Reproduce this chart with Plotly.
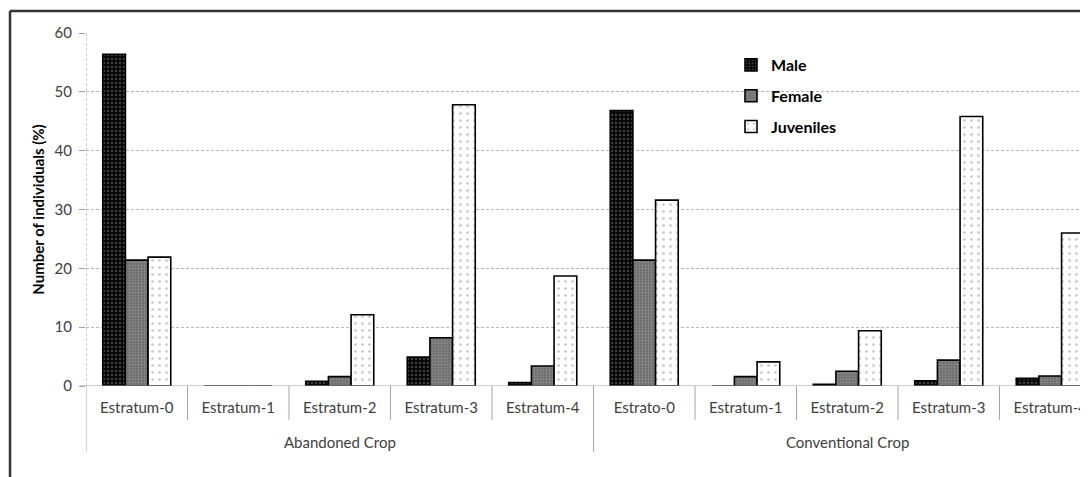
import plotly.graph_objects as go

groups = ["Abandoned Crop", "Conventional Crop"]
strata = ["Estratum-0", "Estratum-1", "Estratum-2", "Estratum-3", "Estratum-4",
          "Estrato-0", "Estratum-1", "Estratum-2", "Estratum-3", "Estratum-4"]
male = [56.4, 0.0, 0.8, 4.9, 0.6, 46.8, 0.0, 0.3, 0.9, 1.3]
female = [21.4, 0.0, 1.6, 8.2, 3.4, 21.4, 1.6, 2.5, 4.4, 1.7]
juveniles = [21.9, 0.0, 12.1, 47.8, 18.7, 31.6, 4.1, 9.4, 45.8, 26.0]
yticks = [0, 10, 20, 30, 40, 50, 60]

xpos = list(range(len(strata)))
FONT = "Lato, 'Open Sans', sans-serif"

# page body has an 8px default margin: figure occupies 8..1088 x 8..477
W, H = 1080, 469
ML, MT, MB = 78, 25, 91
plot_w = W - ML
plot_h = H - MT - MB

fig = go.Figure()
series = [
    ("Male", male, dict(shape=".", bgcolor="#050505", fgcolor="#7a7a7a", size=4, solidity=0.3)),
    ("Female", female, dict(shape=".", bgcolor="#6a6a6a", fgcolor="#a8a8a8", size=3, solidity=0.45)),
    ("Juveniles", juveniles, dict(shape=".", bgcolor="#ffffff", fgcolor="#8a8a8a", size=7, solidity=0.12)),
]
for name, vals, pat in series:
    fig.add_trace(go.Bar(
        x=xpos, y=vals, name=name, legendgroup=name,
        marker=dict(color=pat["bgcolor"], pattern=dict(fillmode="overlay", **pat),
                    line=dict(color="#000000", width=1.6)),
    ))

fig.update_layout(
    width=W, height=H,
    margin=dict(l=ML, r=0, t=MT, b=MB),
    paper_bgcolor="white", plot_bgcolor="white",
    barmode="group", bargap=0.33, bargroupgap=0,
    font=dict(family=FONT, size=15, color="#404040"),
    showlegend=True,
    legend=dict(x=(723 - ML) / plot_w, y=1 - (48 - 8 - MT) / plot_h, xanchor="left", yanchor="top",
                font=dict(family=FONT, size=16, color="#000000", weight="bold"),
                tracegroupgap=7, traceorder="grouped",
                itemwidth=30, bgcolor="rgba(0,0,0,0)"),
    xaxis=dict(range=[-0.5, 9.372], tickvals=xpos, ticktext=strata, showgrid=False,
               showline=False, zeroline=False, ticks="", tickfont=dict(size=15, color="#404040"),
               ticklabelstandoff=11),
    yaxis=dict(range=[0, 60], tickvals=yticks, showgrid=True, gridcolor="#b8b8b8",
               griddash="3px,2px", gridwidth=1, zeroline=False, showline=False,
               ticks="outside", ticklen=6, tickcolor="#a0a0a0",
               tickfont=dict(size=15, color="#404040"), ticklabelstandoff=4,
               title=dict(text="<b>Number of individuals (%)</b>", font=dict(size=15, color="#000000"), standoff=6)),
)

# dashed y-axis line and solid x-axis line
fig.add_shape(type="line", xref="x", yref="paper", x0=-0.5, x1=-0.5, y0=0, y1=1,
              line=dict(color="#a0a0a0", width=1, dash="3px,2px"))
fig.add_shape(type="line", xref="paper", yref="y", x0=-6 / plot_w, x1=1.0, y0=0, y1=0,
              line=dict(color="#a0a0a0", width=1.2))

# category dividers and group dividers
inner_y = -34 / plot_h
outer_y = -66 / plot_h
for i in range(len(strata) + 1):
    b = i - 0.5
    is_group = (i % 5 == 0)
    fig.add_shape(type="line", xref="x", yref="paper", x0=b, x1=b, y0=0,
                  y1=outer_y if is_group else inner_y,
                  line=dict(color="#a6a6a6", width=1))

# group labels
for gi, g in enumerate(groups):
    fig.add_annotation(x=gi * 5 + 2, y=-56 / plot_h, xref="x", yref="paper",
                       text=g, showarrow=False, font=dict(size=15, color="#404040"),
                       yanchor="middle")

# outer chart frame (left and top edges)
fx = (2 - ML) / plot_w
fy = 1 + (MT - 3) / plot_h
fig.add_shape(type="line", xref="paper", yref="paper",
              x0=fx, x1=fx, y0=-2, y1=fy,
              line=dict(color="#333333", width=2.5))
fig.add_shape(type="line", xref="paper", yref="paper",
              x0=fx, x1=2, y0=fy, y1=fy,
              line=dict(color="#333333", width=2.5))

fig.write_html("out.html")
